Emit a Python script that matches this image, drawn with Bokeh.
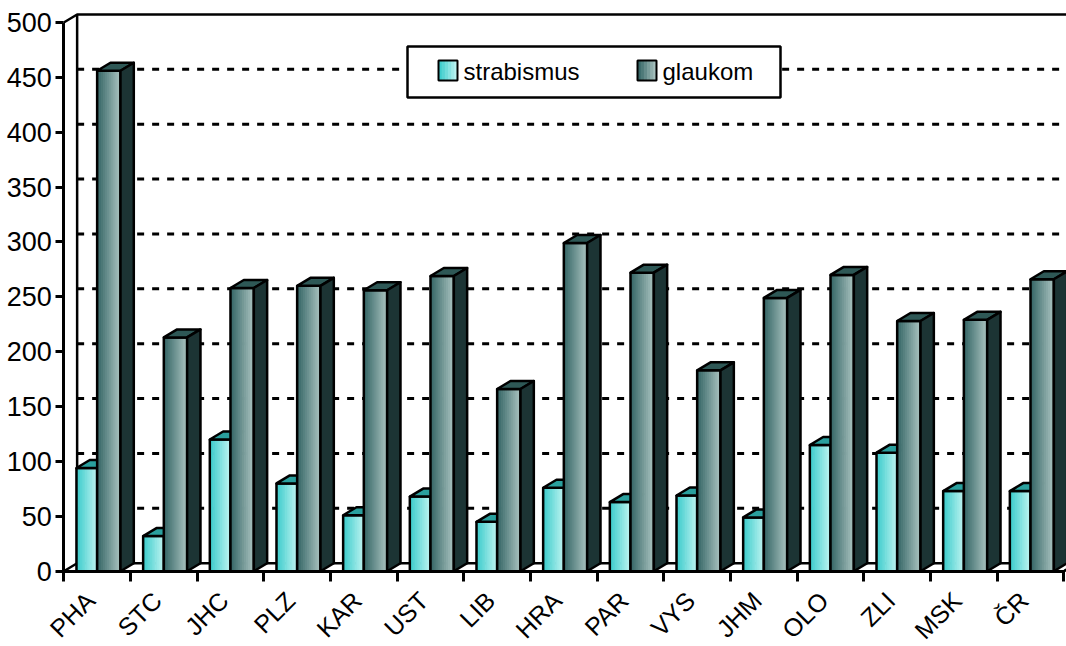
import math
from bokeh.plotting import figure
from bokeh.models import LinearAxis, FixedTicker, ColumnDataSource, Range1d
from bokeh.core.properties import value
from bokeh.embed import file_html
from bokeh.resources import INLINE

# ---------------- data ----------------
categories = ["PHA", "STC", "JHC", "PLZ", "KAR", "UST", "LIB", "HRA",
              "PAR", "VYS", "JHM", "OLO", "ZLI", "MSK", "ČR"]
strabismus = [94, 32, 120, 80, 51, 68, 45, 76, 63, 69, 49, 115, 108, 73, 73]
glaukom = [456, 213, 258, 260, 256, 269, 166, 299, 272, 183, 249, 270, 228, 229, 266]
series_names = ["strabismus", "glaukom"]
y_ticks = [0, 50, 100, 150, 200, 250, 300, 350, 400, 450, 500]

# ---------------- layout / style ----------------
W, H = 1066, 646
SX = 66.67      # px per category
SY = 1.0975     # px per value unit
X0_PX = 63.3    # x=0 in figure px
Y0_PX = 570.7   # y=0 in figure px
xs = -X0_PX / SX
xe = xs + W / SX
ye = Y0_PX / SY
ys = ye - H / SY

DX = 0.2        # 3-D depth offset (category units)
DY = 8 / SY     # 3-D depth offset (value units)
S_L, S_R = 0.19, 0.50
G_L, G_R = 0.50, 0.85
FONT = "Liberation Sans"

STRAB_C0, STRAB_C1 = (62, 204, 204), (186, 243, 240)
GLAU_C0, GLAU_C1 = (56, 104, 104), (166, 192, 189)
STRAB_TOP = "#2aa09e"
GLAU_TOP = "#2e5856"
GLAU_SIDE = "#1c3434"


def px_x(fx):
    return xs + fx / SX


def px_y(fy):
    return ye - fy / SY


def hexcol(c0, c1, f):
    r, g, b = (round(a + (b_ - a) * f) for a, b_ in zip(c0, c1))
    return "#%02x%02x%02x" % (r, g, b)


def strips(lefts, rights, bottoms, tops, c0, c1, n=12):
    L, R, B, T, C = [], [], [], [], []
    for l, r, b, t in zip(lefts, rights, bottoms, tops):
        w = (r - l) / n
        for k in range(n):
            L.append(l + k * w)
            R.append(min(r, l + (k + 1.4) * w))
            B.append(b)
            T.append(t)
            C.append(hexcol(c0, c1, k / (n - 1)))
    return ColumnDataSource(dict(left=L, right=R, bottom=B, top=T, color=C))


p = figure(width=W, height=H, x_range=Range1d(xs, xe), y_range=Range1d(ys, ye),
           x_axis_type=None, y_axis_type=None, toolbar_location=None,
           output_backend="svg", min_border=0, outline_line_color=None,
           background_fill_color="white", border_fill_color="white")

n = len(categories)
idx = list(range(n))

# floor
p.patch([0, n, n + DX, DX], [0, 0, DY, DY], fill_color="white",
        line_color="black", line_width=2.5)

# back wall grid lines
grid_vals = [v + DY for v in y_ticks[1:-1]]
p.segment(x0=[DX] * len(grid_vals), x1=[xe] * len(grid_vals), y0=grid_vals, y1=grid_vals,
          line_color="black", line_width=3, line_dash="7 8")
# back wall frame
top_y = y_ticks[-1] + DY
p.line([0, DX, xe], [y_ticks[-1], top_y, top_y], line_color="black", line_width=2.5)
p.line([DX, DX], [DY, top_y], line_color="black", line_width=2.5)

# strabismus bars
sl = [i + S_L for i in idx]
sr = [i + S_R for i in idx]
p.quad(source=strips(sl, sr, [0] * n, strabismus, STRAB_C0, STRAB_C1),
       left="left", right="right", bottom="bottom", top="top",
       fill_color="color", line_color=None)
p.quad(left=sl, right=sr, bottom=[0] * n, top=strabismus, fill_color=None,
       line_color="black", line_width=2.5)
p.patches([[a, b, b + DX, a + DX] for a, b in zip(sl, sr)],
          [[v, v, v + DY, v + DY] for v in strabismus],
          fill_color=STRAB_TOP, line_color="black", line_width=2.5, line_join="round")

# glaukom bars
gl = [i + G_L for i in idx]
gr = [i + G_R for i in idx]
p.quad(source=strips(gl, gr, [0] * n, glaukom, GLAU_C0, GLAU_C1),
       left="left", right="right", bottom="bottom", top="top",
       fill_color="color", line_color=None)
p.quad(left=gl, right=gr, bottom=[0] * n, top=glaukom, fill_color=None,
       line_color="black", line_width=2.5)
p.patches([[a, b, b + DX, a + DX] for a, b in zip(gl, gr)],
          [[v, v, v + DY, v + DY] for v in glaukom],
          fill_color=GLAU_TOP, line_color="black", line_width=2.5, line_join="round")
p.patches([[b, b + DX, b + DX, b] for b in gr],
          [[0, DY, v + DY, v] for v in glaukom],
          fill_color=GLAU_SIDE, line_color="black", line_width=2.5, line_join="round")

# floor right edge
p.line([n, n + DX], [0, DY], line_color="black", line_width=2.5)

# legend (custom, drawn in plot space)
p.quad(left=[px_x(407)], right=[px_x(780)], bottom=[px_y(97)], top=[px_y(46)],
       fill_color="white", line_color="black", line_width=2.5)
sw_l = [px_x(438), px_x(637)]
sw_r = [px_x(457), px_x(656)]
sw_b = [px_y(80), px_y(80)]
sw_t = [px_y(60), px_y(60)]
p.quad(source=strips(sw_l[:1], sw_r[:1], sw_b[:1], sw_t[:1], STRAB_C0, STRAB_C1, 6),
       left="left", right="right", bottom="bottom", top="top",
       fill_color="color", line_color=None)
p.quad(source=strips(sw_l[1:], sw_r[1:], sw_b[1:], sw_t[1:], GLAU_C0, GLAU_C1, 6),
       left="left", right="right", bottom="bottom", top="top",
       fill_color="color", line_color=None)
p.quad(left=sw_l, right=sw_r, bottom=sw_b, top=sw_t, fill_color=None,
       line_color="black", line_width=2)
p.text(x=[px_x(463), px_x(662)], y=[px_y(71), px_y(71)], text=series_names,
       text_font=value(FONT), text_font_size="24px", text_color="black",
       text_baseline="middle", text_align="left")

# axes
yaxis = LinearAxis(fixed_location=0, ticker=FixedTicker(ticks=y_ticks),
                   bounds=(0, y_ticks[-1]))
yaxis.axis_line_width = 3
yaxis.axis_line_color = "black"
yaxis.major_tick_out = 8
yaxis.major_tick_in = 0
yaxis.major_tick_line_width = 3
yaxis.minor_tick_line_color = None
yaxis.major_label_standoff = 4
yaxis.major_label_text_font = FONT
yaxis.major_label_text_font_size = "27px"
yaxis.major_label_text_color = "black"
p.add_layout(yaxis, "left")

label_pos = [i + 0.40 for i in idx]
xaxis = LinearAxis(fixed_location=0,
                   ticker=FixedTicker(ticks=label_pos, minor_ticks=list(range(n + 1))),
                   bounds=(0, n),
                   major_label_overrides={t: c for t, c in zip(label_pos, categories)})
xaxis.axis_line_width = 3
xaxis.axis_line_color = "black"
xaxis.major_tick_line_color = None
xaxis.major_tick_out = 0
xaxis.major_tick_in = 0
xaxis.minor_tick_out = 10
xaxis.minor_tick_in = 0
xaxis.minor_tick_line_width = 3
xaxis.minor_tick_line_color = "black"
xaxis.major_label_orientation = math.pi / 4
xaxis.major_label_standoff = 15
xaxis.major_label_text_font = FONT
xaxis.major_label_text_font_size = "25px"
xaxis.major_label_text_color = "black"
p.add_layout(xaxis, "below")

open("out.html", "w").write(file_html(p, INLINE))
